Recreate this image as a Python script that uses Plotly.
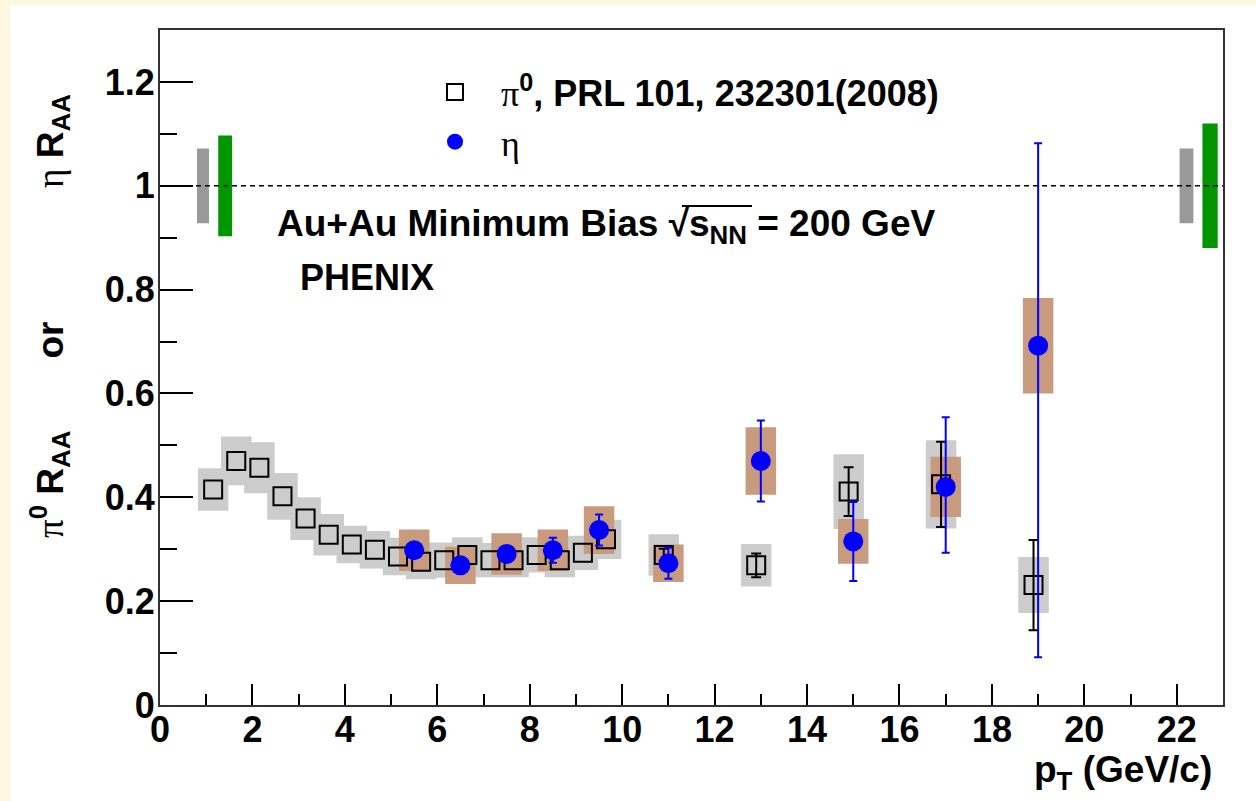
import plotly.graph_objects as go

# ---------------- data ----------------
pt_pi0 = [1.15, 1.65, 2.15, 2.65, 3.15, 3.65, 4.15, 4.65, 5.15, 5.65, 6.15, 6.65,
          7.15, 7.65, 8.15, 8.65, 9.15, 9.65, 10.9, 12.9, 14.9, 16.9, 18.9]
raa_pi0 = [0.415, 0.470, 0.457, 0.402, 0.359, 0.328, 0.309, 0.299, 0.286, 0.276, 0.279, 0.289,
           0.279, 0.279, 0.289, 0.279, 0.293, 0.319, 0.289, 0.269, 0.411, 0.425, 0.231]
# statistical errors are hidden inside the markers below 10 GeV/c; visible ones:
stat_pi0_high = [0.012, 0.023, 0.047, 0.082, 0.087]
sys_pi0 = [0.041, 0.047, 0.049, 0.045, 0.041, 0.040, 0.036, 0.036, 0.036, 0.034, 0.034, 0.034,
           0.033, 0.033, 0.034, 0.033, 0.033, 0.038, 0.040, 0.041, 0.072, 0.085, 0.054]
N_LOW = 18  # number of pi0 points below 10 GeV/c

pt_eta = [5.5, 6.5, 7.5, 8.5, 9.5, 11, 13, 15, 17, 19]
raa_eta = [0.298, 0.269, 0.291, 0.298, 0.337, 0.273, 0.470, 0.315, 0.420, 0.692]
stat_eta_up = [0.012, 0.012, 0.012, 0.024, 0.030, 0.030, 0.078, 0.076, 0.134, 0.390]
stat_eta_dn = [0.012, 0.012, 0.012, 0.024, 0.030, 0.030, 0.078, 0.076, 0.127, 0.600]
sys_eta = [0.040, 0.036, 0.040, 0.040, 0.046, 0.036, 0.065, 0.043, 0.058, 0.092]

# global normalisation uncertainties (boxes at R_AA = 1)
glob_x = [0.93, 1.41, 22.21, 22.72]
glob_err = [0.072, 0.097, 0.072, 0.120]
glob_w = [0.26, 0.30, 0.30, 0.33]
glob_col = ["#999999", "#009600", "#999999", "#009600"]

x_ticks = [0, 2, 4, 6, 8, 10, 12, 14, 16, 18, 20, 22]
y_ticks = [0, 0.2, 0.4, 0.6, 0.8, 1, 1.2]
y_ticktext = ["0", "0.2", "0.4", "0.6", "0.8", "1", "1.2"]

BOX_W = 0.66
SANS = "Liberation Sans, Arial, sans-serif"
SERIF = "Liberation Serif, Times New Roman, serif"

fig = go.Figure()

# systematic boxes pi0
fig.add_trace(go.Bar(
    x=pt_pi0, base=[r - s for r, s in zip(raa_pi0, sys_pi0)],
    y=[2 * s for s in sys_pi0], width=BOX_W,
    marker=dict(color="#CCCCCC", line=dict(width=0)),
    showlegend=False, hoverinfo="skip"))
# systematic boxes eta
fig.add_trace(go.Bar(
    x=pt_eta, base=[r - s for r, s in zip(raa_eta, sys_eta)],
    y=[2 * s for s in sys_eta], width=BOX_W,
    marker=dict(color="#C89A7E", line=dict(width=0)),
    showlegend=False, hoverinfo="skip"))
# global boxes
fig.add_trace(go.Bar(
    x=glob_x, base=[1 - e for e in glob_err], y=[2 * e for e in glob_err],
    width=glob_w, marker=dict(color=glob_col, line=dict(width=0)),
    showlegend=False, hoverinfo="skip"))

sp = "\u00a0"
pi0_marker = dict(symbol="square-open", size=18, color="black", line=dict(width=2, color="black"))
fig.add_trace(go.Scatter(
    x=pt_pi0[:N_LOW], y=raa_pi0[:N_LOW], mode="markers", legendgroup="pi0",
    name=f"<span style='font-family:{SERIF};font-weight:normal'>π</span><sup>0</sup>, PRL 101, 232301(2008)",
    marker=pi0_marker))
fig.add_trace(go.Scatter(
    x=pt_pi0[N_LOW:], y=raa_pi0[N_LOW:], mode="markers", legendgroup="pi0", showlegend=False,
    marker=pi0_marker,
    error_y=dict(type="data", array=stat_pi0_high, color="black", thickness=2, width=5)))
fig.add_trace(go.Scatter(
    x=pt_eta, y=raa_eta, mode="markers",
    name=f"<span style='font-family:{SERIF};font-weight:normal'>η</span>",
    marker=dict(symbol="circle", size=20, color="#0000FF", line=dict(width=0)),
    error_y=dict(type="data", symmetric=False, array=stat_eta_up, arrayminus=stat_eta_dn,
                 color="#0000FF", thickness=2, width=4)))

fig.add_hline(y=1, line=dict(color="black", width=1.5, dash="5px,4px"), layer="above")

# white panel over cream page
fig.add_shape(type="rect", xref="paper", yref="paper",
              x0=(10 - 160) / 1063, x1=1.05, y0=-0.2, y1=(705 - 5) / 675,
              fillcolor="white", line=dict(width=0), layer="below")

fig.add_annotation(
    xref="paper", yref="paper", x=(275 - 160) / 1063, y=(705 - 226) / 675,
    xanchor="left", yanchor="middle", showarrow=False,
    text="Au+Au Minimum Bias √s<sub>NN</sub> = 200 GeV",
    font=dict(family=SANS, size=37, color="black", weight="bold"))
# overline of the square root
fig.add_shape(type="line", xref="paper", yref="paper", layer="above",
              x0=(682 - 160) / 1063, x1=(752 - 160) / 1063,
              y0=(705 - 206) / 675, y1=(705 - 206) / 675,
              line=dict(color="black", width=2))
fig.add_annotation(
    xref="paper", yref="paper", x=(298 - 160) / 1063, y=(705 - 277) / 675,
    xanchor="left", yanchor="middle", showarrow=False, text="PHENIX",
    font=dict(family=SANS, size=36, color="black", weight="bold"))
fig.add_annotation(
    xref="paper", yref="paper", x=(1214 - 160) / 1063, y=(705 - 772) / 675,
    xanchor="right", yanchor="middle", showarrow=False, text="p<sub>T</sub> (GeV/c)",
    font=dict(family=SANS, size=37, color="black", weight="bold"))
fig.add_annotation(
    xref="paper", yref="paper", x=(49 - 160) / 1063, y=(705 - 316) / 675,
    xanchor="center", yanchor="middle", showarrow=False, textangle=-90,
    text=(f"<span style='font-family:{SERIF};font-weight:normal'>π</span><sup>0</sup> R<sub>AA</sub>"
          f"{sp*7}or{sp*13}<span style='font-family:{SERIF};font-weight:normal'>η</span> R<sub>AA</sub>"),
    font=dict(family=SANS, size=37, color="black", weight="bold"))

axis_font = dict(family=SANS, size=36, color="black", weight="bold")
fig.update_xaxes(
    range=[0, 23], tickmode="array", tickvals=x_ticks, ticks="inside", ticklen=21,
    tickwidth=2, tickcolor="black", showline=True, linecolor="#333333", linewidth=2,
    mirror=True, showgrid=False, zeroline=False, tickfont=axis_font, ticklabelstandoff=-8,
    minor=dict(ticks="inside", ticklen=11, tickwidth=2, tickcolor="black", dtick=1, showgrid=False))
fig.update_yaxes(
    range=[0, 1.3], tickmode="array", tickvals=y_ticks, ticktext=y_ticktext, ticks="inside",
    ticklen=33, tickwidth=2, tickcolor="black", showline=True, linecolor="#333333",
    linewidth=2, mirror=True, showgrid=False, zeroline=False, tickfont=axis_font,
    ticklabelstandoff=-4,
    minor=dict(ticks="inside", ticklen=17, tickwidth=2, tickcolor="black", dtick=0.1, showgrid=False))

fig.update_layout(
    width=1256, height=801, autosize=False,
    margin=dict(l=160, r=33, t=30, b=96, pad=0),
    paper_bgcolor="#FDF7E2", plot_bgcolor="white",
    barmode="overlay", showlegend=True,
    legend=dict(x=(409 - 160) / 1063, y=(705 - 62) / 675, xanchor="left", yanchor="top",
                bgcolor="rgba(0,0,0,0)", borderwidth=0, itemwidth=82, tracegroupgap=0,
                font=dict(family=SANS, size=36, color="black", weight="bold"),
                traceorder="normal", itemsizing="trace"),
)

fig.write_html("out.html", config={"displayModeBar": False},
               post_script="document.body.style.margin='0';")
